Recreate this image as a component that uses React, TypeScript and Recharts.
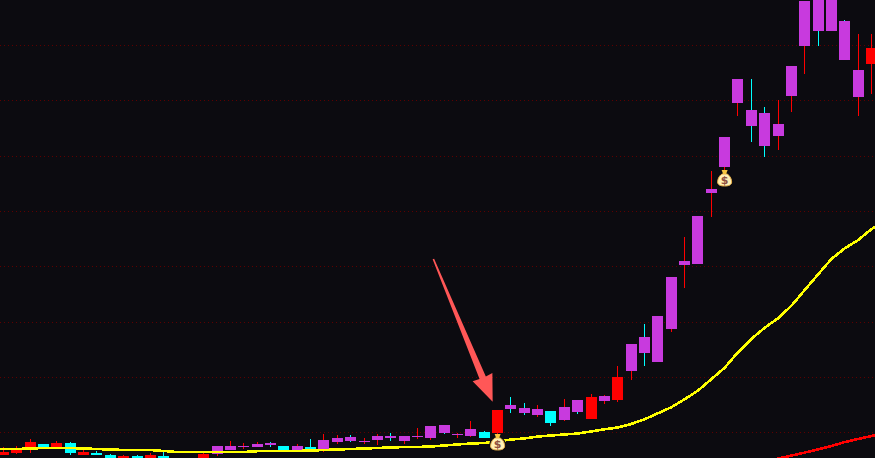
import { Bar, CartesianGrid, ComposedChart, Line, ReferenceDot, ReferenceLine, XAxis, YAxis } from "recharts";

const WIDTH = 875;
const HEIGHT = 458;
const BACKGROUND = "#0c0b10";

// first and last rows sit just outside the visible window
const bodyTop = [
  8,
  6, 8, 16, 14, 15, 15, 6, 5, 3, 2,
  2, 3, 2, -2, -3, 4, 12, 12, 12, 14,
  15, 12, 12, 11, 18, 20, 21, 17, 22, 22,
  22, 22, 32, 33, 24, 29, 26, 48, 53, 50,
  49, 47, 51, 58, 61, 62, 81, 114, 121, 142,
  181, 197, 242, 269, 321, 379, 348, 345, 334, 392,
  457, 473, 478, 437, 388, 410,
  428,
];
const bodyBottom = [
  5,
  3, 5, 8, 10, 10, 5, 3, 3, -1, -1,
  -1, -1, -2, -6, -7, -1, 4, 8, 11, 11,
  13, 8, 7, 9, 7, 16, 17, 16, 18, 20,
  17, 21, 20, 25, 23, 22, 20, 25, 49, 45,
  43, 35, 38, 46, 39, 57, 58, 87, 105, 96,
  129, 193, 194, 265, 291, 355, 332, 312, 322, 362,
  412, 427, 427, 398, 361, 394,
  408,
];
const wickHigh = [
  10,
  11, 12, 19, 14, 17, 16, 10, 7, 4, 3,
  3, 5, 6, -1, -2, 5, 12, 17, 15, 16,
  16, 12, 14, 19, 24, 23, 23, 20, 24, 25,
  22, 30, 32, 33, 25, 37, 27, 48, 61, 55,
  53, 47, 59, 58, 64, 63, 92, 114, 134, 142,
  181, 221, 242, 287, 321, 379, 379, 351, 358, 392,
  457, 473, 478, 438, 424, 424,
  433,
];
const wickLow = [
  4,
  3, 4, 5, 10, 10, 3, 3, 3, -2, -2,
  -2, -2, -3, -7, -8, -2, 2, 8, 9, 11,
  11, 8, 7, 7, 6, 14, 16, 14, 13, 17,
  14, 19, 18, 24, 20, 21, 20, 23, 45, 43,
  41, 32, 37, 44, 39, 54, 56, 78, 92, 96,
  126, 170, 194, 241, 287, 342, 316, 301, 308, 346,
  384, 412, 427, 398, 342, 364,
  398,
];
const bodyKinds = [
  "r",
  "r", "r", "r", "c", "r", "c", "r", "c", "c", "r",
  "c", "r", "c", "r", "c", "r", "p", "p", "p", "p",
  "p", "c", "p", "c", "p", "p", "p", "p", "p", "p",
  "p", "p", "p", "p", "p", "p", "c", "r", "p", "p",
  "p", "c", "p", "p", "r", "p", "r", "p", "p", "p",
  "p", "p", "p", "p", "p", "p", "p", "p", "p", "p",
  "p", "p", "p", "p", "p", "r",
  "r",
];
const wickKinds = [
  "r",
  "r", "r", "r", "c", "r", "c", "r", "c", "c", "r",
  "c", "r", "c", "r", "c", "r", "r", "r", "r", "r",
  "c", "c", "r", "c", "r", "r", "c", "r", "r", "c",
  "r", "r", "r", "c", "r", "r", "c", "r", "c", "c",
  "r", "c", "r", "c", "r", "r", "r", "r", "c", "r",
  "r", "r", "r", "r", "r", "r", "c", "c", "r", "r",
  "r", "c", "r", "c", "r", "r",
  "r",
];
const maShort = [
  8.5,
  9, 9, 9.5, 10, 10, 10, 9.5, 9, 8.5, 8,
  8, 8, 7, 6, 6, 6, 6, 6, 6, 6.8,
  7, 7, 7, 7.5, 8, 8.5, 9, 9.5, 10, 10.5,
  11, 11, 11.5, 12.5, 13.5, 14.5, 15, 16.5, 18.5, 19.5,
  21.5, 22.5, 23.5, 24.5, 26.5, 28.7, 30.5, 34, 38.7, 44.7,
  50.7, 58.7, 67.3, 78.7, 90.3, 105.7, 119, 130.3, 139.7, 152.3,
  168, 183.7, 199, 209.7, 218, 229,
  236,
];
const maLong = [
  null,
  null, null, null, null, null, null, null, null, null, null,
  null, null, null, null, null, null, null, null, null, null,
  null, null, null, null, null, null, null, null, null, null,
  null, null, null, null, null, null, null, null, null, null,
  null, null, null, null, null, null, null, null, null, null,
  null, null, null, null, null, null, null, -3.5, -0.5, 2.4,
  5.4, 8.7, 12, 16, 19, 22,
  25,
];
const gridLevels = [412.5, 357.5, 301.5, 246.5, 191.5, 135.5, 80.5, 25.5];
const signals = [
  { session: 38, level: 16 },
  { session: 55, level: 280 },
];
const arrowFrom = { x: 33.19, y: 199 };
const arrowTo = { x: 37.63, y: 56.3 };

const COLORS: Record<string, string> = { r: "#ff0000", c: "#00ffff", p: "#c83ade" };

const rows = bodyTop.map((top, i) => ({
  session: i,
  bodyTop: top,
  bodyBottom: bodyBottom[i],
  high: wickHigh[i],
  low: wickLow[i],
  bodyKind: bodyKinds[i],
  wickKind: wickKinds[i],
  maShort: maShort[i],
  maLong: maLong[i],
}));

function Candle(props: any) {
  const { x, y, width, height, payload } = props;
  const span = payload.high - payload.low;
  const unit = span > 0 ? height / span : 0;
  // recharts truncates the bar offset, nudge back onto the session centre
  const left = Math.round(x + width / 2 - 5.35);
  const top = y + (payload.high - payload.bodyTop) * unit;
  const bodyHeight = (payload.bodyTop - payload.bodyBottom) * unit;
  return (
    <g shapeRendering="crispEdges">
      <rect x={left + 5} y={y} width={1} height={height} fill={COLORS[payload.wickKind]} />
      <rect x={left} y={top} width={11} height={bodyHeight} fill={COLORS[payload.bodyKind]} />
    </g>
  );
}

function Arrow(props: any) {
  const { x1, y1, x2, y2 } = props;
  const len = Math.hypot(x2 - x1, y2 - y1);
  const ux = (x2 - x1) / len;
  const uy = (y2 - y1) / len;
  const at = (along: number, side: number) =>
    `${x2 - ux * along + uy * side},${y2 - uy * along - ux * side}`;
  const pts = [at(len, -0.8), at(26, -3.4), at(26.5, -10.7), at(0, 0), at(26.5, 10.7), at(26, 3.4), at(len, 0.8)];
  return <polygon points={pts.join(" ")} fill="#ff5757" />;
}

function MoneyBag(props: any) {
  const { cx, cy } = props;
  return (
    <g transform={`translate(${cx},${cy})`}>
      <path
        d="M-2.5,-4 C-6,-2 -7,2 -7,4 C-7,7 -4,8 0,8 C4,8 7,7 7,4 C7,2 6,-2 2.5,-4 Z"
        fill="#fff0b5"
        stroke={BACKGROUND}
        strokeWidth={3}
      />
      <path
        d="M-2.5,-4 C-6,-2 -7,2 -7,4 C-7,7 -4,8 0,8 C4,8 7,7 7,4 C7,2 6,-2 2.5,-4 Z"
        fill="#fff0b5"
        stroke="#e9b04a"
        strokeWidth={1}
      />
      <path d="M-3,-8 L3,-8 L1.5,-4 L-1.5,-4 Z" fill="#f6c53f" />
      <text x={0} y={6} textAnchor="middle" fontSize={11} fontWeight="bold" fontFamily="DejaVu Sans" fill="#8f5040">
        $
      </text>
    </g>
  );
}

export default function App() {
  return (
    <div style={{ position: "fixed", left: 0, top: 0, width: WIDTH, height: HEIGHT, background: BACKGROUND }}>
      <ComposedChart width={WIDTH} height={HEIGHT} data={rows} margin={{ top: 0, right: 0, bottom: 0, left: 0 }}>
        <XAxis dataKey="session" type="number" domain={[0.738, 66.26]} allowDataOverflow hide />
        <YAxis type="number" domain={[0, HEIGHT]} allowDataOverflow hide width={0} />
        <CartesianGrid
          vertical={false}
          horizontalValues={gridLevels}
          stroke="#5e0000"
          strokeDasharray="1 3"
        />
        <Bar
          dataKey={(d: any) => [d.low, d.high]}
          barSize={11}
          shape={Candle}
          isAnimationActive={false}
        />
        <Line
          dataKey="maShort"
          type="linear"
          stroke="#ffff00"
          strokeWidth={2.6}
          dot={false}
          activeDot={false}
          shapeRendering="crispEdges"
          isAnimationActive={false}
        />
        <Line
          dataKey="maLong"
          type="linear"
          stroke="#ff0000"
          strokeWidth={2.6}
          dot={false}
          activeDot={false}
          shapeRendering="crispEdges"
          isAnimationActive={false}
        />
        <ReferenceLine segment={[arrowFrom, arrowTo]} shape={Arrow} />
        {signals.map((s) => (
          <ReferenceDot key={s.session} x={s.session} y={s.level} r={8} shape={MoneyBag} />
        ))}
      </ComposedChart>
    </div>
  );
}
